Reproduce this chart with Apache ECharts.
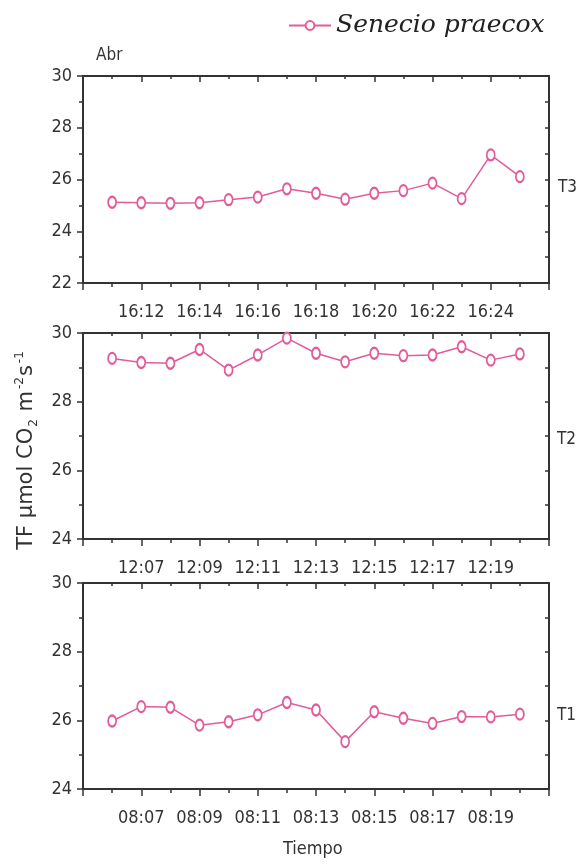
<!DOCTYPE html>
<html>
<head>
<meta charset="utf-8">
<script src="https://cdn.jsdelivr.net/npm/echarts@6/dist/echarts.min.js"></script>
<style>html,body{margin:0;padding:0;background:#fff}#c{width:581px;height:864px}</style>
</head>
<body>
<div id="c"></div>
<script>
// ---- data ----
const seriesName = 'Senecio praecox';
const t3Times = ['16:11','16:12','16:13','16:14','16:15','16:16','16:17','16:18','16:19','16:20','16:21','16:22','16:23','16:24','16:25'];
const t3Vals  = [25.12,25.1,25.08,25.1,25.22,25.32,25.64,25.47,25.24,25.47,25.57,25.86,25.26,26.95,26.11];
const t3Ticks = ['16:12','16:14','16:16','16:18','16:20','16:22','16:24'];

const t2Times = ['12:06','12:07','12:08','12:09','12:10','12:11','12:12','12:13','12:14','12:15','12:16','12:17','12:18','12:19','12:20'];
const t2Vals  = [29.26,29.14,29.12,29.52,28.92,29.36,29.85,29.41,29.16,29.41,29.34,29.36,29.6,29.21,29.39];
const t2Ticks = ['12:07','12:09','12:11','12:13','12:15','12:17','12:19'];

const t1Times = ['08:06','08:07','08:08','08:09','08:10','08:11','08:12','08:13','08:14','08:15','08:16','08:17','08:18','08:19','08:20'];
const t1Vals  = [25.98,26.4,26.38,25.86,25.96,26.16,26.52,26.3,25.38,26.25,26.06,25.91,26.11,26.1,26.18];
const t1Ticks = ['08:07','08:09','08:11','08:13','08:15','08:17','08:19'];

const yRanges = [[22,30],[24,30],[24,30]];
const panelNames = ['T3','T2','T1'];

// ---- layout / style ----
const COLOR = '#e25c9a';
const AX = '#333';
const FONT = 'DejaVu Sans Condensed, DejaVu Sans, sans-serif';
const panels = [
  {times:t3Times, vals:t3Vals, ticks:t3Ticks, top:76, h:207},
  {times:t2Times, vals:t2Vals, ticks:t2Ticks, top:333, h:206},
  {times:t1Times, vals:t1Vals, ticks:t1Ticks, top:583, h:206}
];

const grids=[], xAxes=[], yAxes=[], series=[];
panels.forEach((p,i)=>{
  grids.push({left:83, right:32, top:p.top, height:p.h, containLabel:false});
  const lineStyle = {color:AX, width:2};
  // bottom x
  xAxes.push({
    type:'value', gridIndex:i, position:'bottom', min:0, max:16, interval:2,
    axisLine:{show:true, onZero:false, lineStyle},
    axisTick:{show:true, inside:false, length:7, lineStyle:{color:AX,width:1.5}},
    minorTick:{show:true, splitNumber:2, length:4, lineStyle:{color:AX,width:1.5}},
    splitLine:{show:false},
    axisLabel:{margin:20, fontFamily:FONT, fontSize:18, color:'#333',
      formatter:v=>{const k=(v-2)/2; return (k>=0 && k<p.ticks.length)? p.ticks[k] : '';}}
  });
  // top x
  xAxes.push({
    type:'value', gridIndex:i, position:'top', min:0, max:16, interval:2,
    axisLine:{show:true, onZero:false, lineStyle},
    axisTick:{show:true, inside:true, length:6, lineStyle:{color:AX,width:1.5}},
    minorTick:{show:true, splitNumber:2, length:3, lineStyle:{color:AX,width:1.5}},
    splitLine:{show:false}, axisLabel:{show:false}
  });
  const [ymin,ymax] = yRanges[i];
  yAxes.push({
    type:'value', gridIndex:i, position:'left', min:ymin, max:ymax, interval:2,
    axisLine:{show:true, onZero:false, lineStyle},
    axisTick:{show:true, inside:false, length:6, lineStyle:{color:AX,width:1.5}},
    minorTick:{show:true, splitNumber:2, length:4, lineStyle:{color:AX,width:1.5}},
    splitLine:{show:false},
    axisLabel:{margin:11, fontFamily:FONT, fontSize:18, color:'#333'}
  });
  yAxes.push({
    type:'value', gridIndex:i, position:'right', min:ymin, max:ymax, interval:1,
    axisLine:{show:true, onZero:false, lineStyle},
    axisTick:{show:true, inside:true, length:4, lineStyle:{color:AX,width:1.5}},
    splitLine:{show:false}, axisLabel:{show:false}
  });
  series.push({
    name:seriesName, type:'line', xAxisIndex:i*2, yAxisIndex:i*2,
    data:p.vals.map((v,j)=>[j+1,v]),
    symbol:'emptyCircle', symbolSize:[8,11], showAllSymbol:true,
    lineStyle:{color:COLOR, width:1.5}, itemStyle:{color:COLOR, borderWidth:1.5},
    emphasis:{disabled:true}, animation:false
  });
});

const chart = echarts.init(document.getElementById('c'), null, {renderer:'canvas'});
chart.setOption({
  backgroundColor:'#fff',
  animation:false,
  grid:grids, xAxis:xAxes, yAxis:yAxes, series:series,
  legend:{
    data:[seriesName], top:8, left:283, itemWidth:42, itemHeight:11, itemGap:10,
    textStyle:{fontFamily:'DejaVu Serif, serif', fontStyle:'italic', fontSize:25, color:'#222'}
  },
  graphic:[
    {type:'text', left:96, top:47, style:{text:'Abr', font:'17px '+FONT, fill:'#333'}},
    {type:'text', left:558, top:179, style:{text:panelNames[0], font:'17px '+FONT, fill:'#333'}},
    {type:'text', left:557, top:431, style:{text:panelNames[1], font:'17px '+FONT, fill:'#333'}},
    {type:'text', left:557, top:707, style:{text:panelNames[2], font:'17px '+FONT, fill:'#333'}},
    {type:'text', left:283, top:840, style:{text:'Tiempo', font:'18px '+FONT, fill:'#333'}},
    {type:'text', x:27, y:450, rotation:Math.PI/2,
      style:{
        text:'{n|TF µmol CO}{sb|2}{n| m}{sp|-2}{n|s}{sp|-1}',
        align:'center', verticalAlign:'middle',
        rich:{
          n:{fontFamily:'DejaVu Sans, sans-serif', fontSize:21, fill:'#333', lineHeight:26, verticalAlign:'middle'},
          sb:{fontFamily:'DejaVu Sans, sans-serif', fontSize:12, fill:'#333', lineHeight:26, verticalAlign:'bottom', padding:[7,1,0,1]},
          sp:{fontFamily:'DejaVu Sans, sans-serif', fontSize:12, fill:'#333', lineHeight:26, verticalAlign:'top', padding:[0,1,0,2]}
        }
      }}
  ]
});
</script>
</body>
</html>
